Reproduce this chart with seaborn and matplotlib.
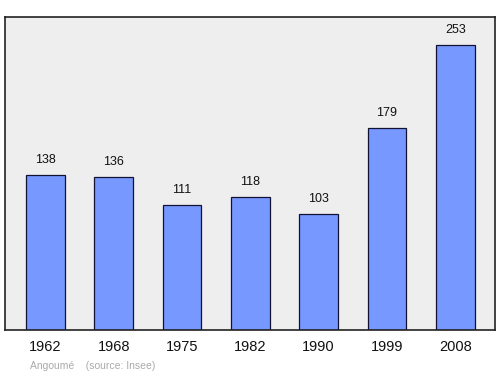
import matplotlib
matplotlib.use("Agg")
import matplotlib.pyplot as plt
import seaborn as sns
import pandas as pd

years = ["1962", "1968", "1975", "1982", "1990", "1999", "2008"]
population = [138, 136, 111, 118, 103, 179, 253]

sns.set_style("white")
plt.rcParams['font.family'] = ['Liberation Sans', 'DejaVu Sans']

df = pd.DataFrame({"year": years, "pop": population})

fig = plt.figure(figsize=(5, 3.74), dpi=100)
ax = fig.add_axes([0.01, 0.1176, 0.98, 0.837])
ax.set_facecolor("#eeeeee")
sns.barplot(data=df, x="year", y="pop", color="#7799ff", saturation=1,
            edgecolor="#111133", linewidth=0.9, width=0.57, ax=ax)
for i, v in enumerate(population):
    ax.text(i, v + 8, str(v), ha="center", va="bottom", fontsize=9, color="#111111")
ax.set_xlim(-0.59, 6.58)
ax.set_ylim(0, 278)
ax.set_yticks([])
ax.set_xlabel("")
ax.set_ylabel("")
ax.tick_params(axis="x", length=0, labelsize=10.5, pad=7.5, colors="#111111")
for s in ax.spines.values():
    s.set_color("#222222")
    s.set_linewidth(1.2)
fig.text(0.06, 0.013, "Angoumé    (source: Insee)", fontsize=7.5, color="#aaaaaa")
fig.savefig("out.png", dpi=100)
